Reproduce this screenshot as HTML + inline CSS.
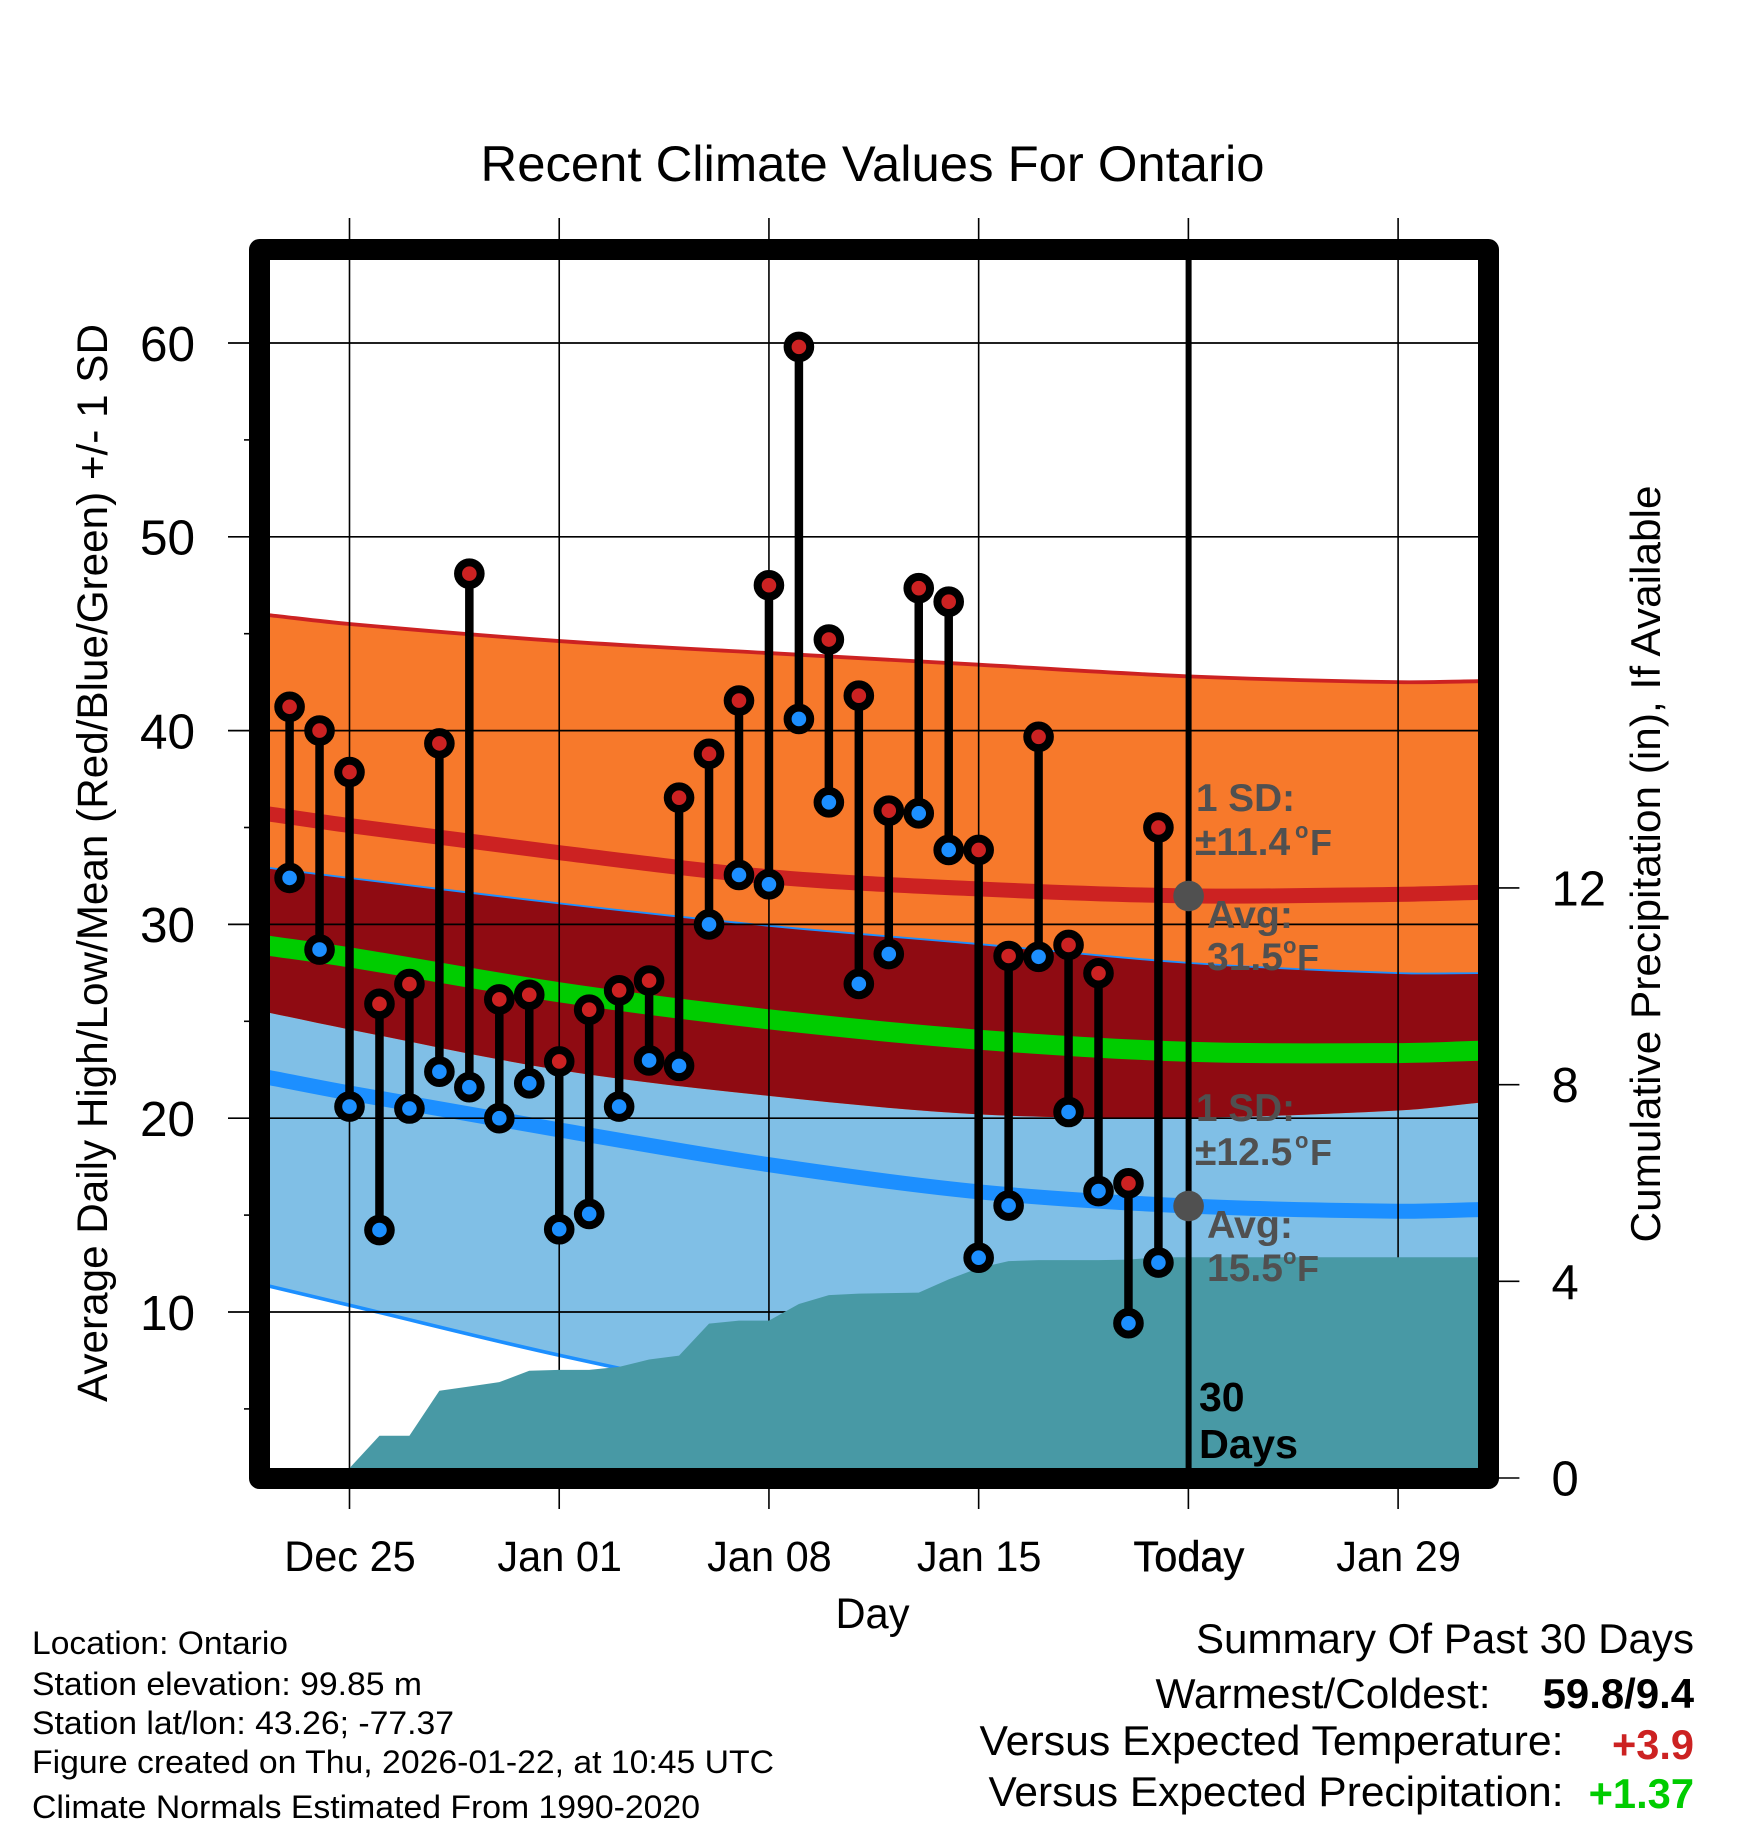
<!DOCTYPE html>
<html lang="en">
<head>
<meta charset="utf-8">
<title>Recent Climate Values For Ontario</title>
<style>
html,body{margin:0;padding:0;background:#fff;}
svg{display:block;}
text{font-family:"Liberation Sans",Arial,sans-serif;fill:#000;}
.b{font-weight:bold;}
.g{font-weight:bold;fill:#505050;font-size:39px;}
</style>
</head>
<body>
<svg id="chart" xmlns="http://www.w3.org/2000/svg" width="1748" height="1828" viewBox="0 0 1748 1828">
  <rect width="1748" height="1828" fill="#fff"/>
  <text x="480.5" y="181" font-size="50" textLength="784" lengthAdjust="spacingAndGlyphs">Recent Climate Values For Ontario</text>
  <g id="bands"></g>
  <g id="grid"></g>
  <g id="precip"></g>
  <rect x="259.5" y="249.5" width="1229" height="1229" fill="none" stroke="#000" stroke-width="21" stroke-linejoin="round"/>
  <g id="ticks"></g>
  <line x1="1188.6" x2="1188.6" y1="255" y2="1470" stroke="#000" stroke-width="6"/>
  <circle cx="1188.6" cy="896" r="15.3" fill="#505050"/>
  <circle cx="1188.6" cy="1206" r="15.3" fill="#505050"/>

  <g>
    <text class="g" x="1196" y="811" textLength="99" lengthAdjust="spacingAndGlyphs">1 SD:</text>
    <text class="g" y="855"><tspan x="1195">±11.4</tspan><tspan x="1295" dy="-17" font-size="22">o</tspan><tspan x="1310" dy="17" font-size="36">F</tspan></text>
    <text class="g" x="1207" y="928" textLength="86" lengthAdjust="spacingAndGlyphs">Avg:</text>
    <text class="g" y="970"><tspan x="1207">31.5</tspan><tspan x="1283" dy="-17" font-size="22">o</tspan><tspan x="1297" dy="17" font-size="36">F</tspan></text>
  </g>
  <g>
    <text class="g" x="1196" y="1121" textLength="99" lengthAdjust="spacingAndGlyphs">1 SD:</text>
    <text class="g" y="1165"><tspan x="1195">±12.5</tspan><tspan x="1295" dy="-17" font-size="22">o</tspan><tspan x="1310" dy="17" font-size="36">F</tspan></text>
    <text class="g" x="1207" y="1238" textLength="86" lengthAdjust="spacingAndGlyphs">Avg:</text>
    <text class="g" y="1281"><tspan x="1207">15.5</tspan><tspan x="1283" dy="-17" font-size="22">o</tspan><tspan x="1297" dy="17" font-size="36">F</tspan></text>
  </g>
  <text class="b" x="1199" y="1411" font-size="41">30</text>
  <text class="b" x="1199" y="1458" font-size="41" textLength="99" lengthAdjust="spacingAndGlyphs">Days</text>

  <g id="obs"></g>

  <text transform="translate(107,1402) rotate(-90)" font-size="43" textLength="1078" lengthAdjust="spacingAndGlyphs">Average Daily High/Low/Mean (Red/Blue/Green) +/- 1 SD</text>
  <text transform="translate(1660,1242.5) rotate(-90)" font-size="42" textLength="757" lengthAdjust="spacingAndGlyphs">Cumulative Precipitation (in), If Available</text>
  <text x="835.5" y="1628" font-size="43" textLength="74" lengthAdjust="spacingAndGlyphs">Day</text>

  <g font-size="32.5">
    <text x="32" y="1654" textLength="256" lengthAdjust="spacingAndGlyphs">Location: Ontario</text>
    <text x="32" y="1695" textLength="390" lengthAdjust="spacingAndGlyphs">Station elevation: 99.85 m</text>
    <text x="32" y="1734" textLength="422" lengthAdjust="spacingAndGlyphs">Station lat/lon: 43.26; -77.37</text>
    <text x="32" y="1773" textLength="742" lengthAdjust="spacingAndGlyphs">Figure created on Thu, 2026-01-22, at 10:45 UTC</text>
    <text x="32" y="1818" textLength="668" lengthAdjust="spacingAndGlyphs">Climate Normals Estimated From 1990-2020</text>
  </g>
  <g font-size="41.5">
    <text x="1196" y="1653" textLength="498" lengthAdjust="spacingAndGlyphs">Summary Of Past 30 Days</text>
    <text x="1155.5" y="1708" textLength="335" lengthAdjust="spacingAndGlyphs">Warmest/Coldest:</text>
    <text class="b" x="1542.6" y="1708" textLength="151.5" lengthAdjust="spacingAndGlyphs">59.8/9.4</text>
    <text x="979.5" y="1755" textLength="584" lengthAdjust="spacingAndGlyphs">Versus Expected Temperature:</text>
    <text class="b" x="1612" y="1759" textLength="82" lengthAdjust="spacingAndGlyphs" style="fill:#cc2222">+3.9</text>
    <text x="988.5" y="1806" textLength="575" lengthAdjust="spacingAndGlyphs">Versus Expected Precipitation:</text>
    <text class="b" x="1588.6" y="1808" textLength="105.4" lengthAdjust="spacingAndGlyphs" style="fill:#00cc00">+1.37</text>
  </g>
</svg>
<script>
/* Values. Days are counted from Dec 25. */
var normalDays = [-2.7, 0, 7, 14, 21, 28, 35, 37.7];
var highUpper  = [45.96, 45.5, 44.62, 44.0, 43.4, 42.8, 42.5, 42.55];
var highMean   = [35.7, 35.1, 33.7, 32.46, 31.83, 31.47, 31.55, 31.65];
var highLower  = [25.45, 24.58, 22.49, 21.15, 20.2, 20.03, 20.4, 20.8];
var lowUpper   = [32.87, 32.35, 31.04, 29.88, 28.94, 27.97, 27.44, 27.44];
var dailyMean  = [28.9, 28.3, 26.5, 25.1, 24.05, 23.43, 23.36, 23.48];
var lowMean    = [22.1, 21.3, 19.4, 17.6, 16.2, 15.47, 15.2, 15.28];
var lowLower   = [11.34, 10.35, 7.77, 5.6, 4.2, 3.0, 2.7, 2.9];

var obsDays = [-2,-1,0,1,2,3,4,5,6,7,8,9,10,11,12,13,14,15,16,17,18,19,20,21,22,23,24,25,26,27];
var obsHigh = [41.23,40.0,37.86,25.9,26.92,39.34,48.1,26.13,26.37,22.93,25.6,26.6,27.1,36.54,38.8,41.55,47.5,59.8,44.7,41.8,35.87,47.35,46.65,33.84,28.37,39.68,28.94,27.48,16.64,35.0];
var obsLow  = [32.4,28.7,20.6,14.23,20.5,22.4,21.6,20.0,21.8,14.27,15.06,20.6,22.98,22.7,30.0,32.55,32.07,40.6,36.3,26.93,28.47,35.73,33.84,12.8,15.49,28.33,20.32,16.24,9.42,12.55];

var precipDays = [0,1,2,3,4,5,6,7,8,9,10,11,12,13,14,15,16,17,18,19,20,21,22,23,24,25,26,27,37.7];
var precipVals = [0.2,0.86,0.86,1.775,1.86,1.95,2.18,2.2,2.2,2.26,2.41,2.49,3.14,3.2,3.2,3.54,3.72,3.75,3.76,3.77,4.04,4.27,4.41,4.43,4.43,4.43,4.44,4.49,4.49];

var xTickDays   = [0,7,14,21,28,35];
var xTickLabels = ['Dec 25','Jan 01','Jan 08','Jan 15','Today','Jan 29'];
var yTickVals   = [10,20,30,40,50,60];
var yMinorVals  = [5,15,25,35,45,55];
var y2TickVals  = [0,4,8,12];

function xAxis(d){ return 349.5 + d * 29.96; }
function yAxis(v){ return 1312 - (v - 10) * 19.38; }
function y2Axis(p){ return 1478 - p * 49.17; }

var NS = 'http://www.w3.org/2000/svg';
function mk(tag, parent, attrs){
  var el = document.createElementNS(NS, tag);
  for (var k in attrs) el.setAttribute(k, attrs[k]);
  parent.appendChild(el);
  return el;
}
function segs(xs, ys){
  /* cubic Hermite through the points; returns segment string without the initial move */
  var n = xs.length, t = [], s = '';
  for (var i = 0; i < n; i++){
    var a = Math.max(i - 1, 0), b = Math.min(i + 1, n - 1);
    t.push((ys[b] - ys[a]) / (xs[b] - xs[a]));
  }
  for (var j = 0; j < n - 1; j++){
    var dx = (xs[j + 1] - xs[j]) / 3;
    s += ' C' + (xs[j] + dx) + ' ' + (ys[j] + t[j] * dx) + ' ' + (xs[j + 1] - dx) + ' ' + (ys[j + 1] - t[j + 1] * dx) + ' ' + xs[j + 1] + ' ' + ys[j + 1];
  }
  return s;
}
function curve(vals){
  var xs = normalDays.map(xAxis), ys = vals.map(yAxis);
  return 'M' + xs[0] + ' ' + ys[0] + segs(xs, ys);
}
function band(up, lo){
  var xs = normalDays.map(xAxis), yu = up.map(yAxis), yl = lo.map(yAxis);
  var rx = xs.slice().reverse(), ry = yl.slice().reverse();
  return 'M' + xs[0] + ' ' + yu[0] + segs(xs, yu) + ' L' + rx[0] + ' ' + ry[0] + segs(rx, ry) + ' Z';
}

var bands = document.getElementById('bands');
var lowBand = mk('path', bands, {d: band(lowUpper, lowLower), fill: '#80bfe6'});


var lowLowerLine = mk('path', bands, {d: curve(lowLower), fill: 'none', stroke: '#1c8fff', 'stroke-width': 3.6});


var highBand = mk('path', bands, {d: band(highUpper, highLower), fill: '#f7792b'});


var highUpperLine = mk('path', bands, {d: curve(highUpper), fill: 'none', stroke: '#cc2222', 'stroke-width': 3.8});


var lowUpperLine = mk('path', bands, {d: curve(lowUpper), fill: 'none', stroke: '#1c8fff', 'stroke-width': 3.6});


var overlap = mk('path', bands, {d: band(lowUpper, highLower), fill: '#8f0b12'});


var highMeanLine = mk('path', bands, {d: curve(highMean), fill: 'none', stroke: '#cc2222', 'stroke-width': 15});


var dailyMeanLine = mk('path', bands, {d: curve(dailyMean), fill: 'none', stroke: '#00cc00', 'stroke-width': 20});


var lowMeanLine = mk('path', bands, {d: curve(lowMean), fill: 'none', stroke: '#1c8fff', 'stroke-width': 15});



var grid = document.getElementById('grid');
xTickDays.forEach(function(d){
  var v = mk('line', grid, {x1: xAxis(d), x2: xAxis(d), y1: 218, y2: 1509, stroke: '#000', 'stroke-width': 1.6});
  
  
});
yTickVals.forEach(function(t){
  var h = mk('line', grid, {x1: 228, x2: 1478, y1: yAxis(t), y2: yAxis(t), stroke: '#000', 'stroke-width': 1.7});
  
  
});

var pg = document.getElementById('precip');
var px = precipDays.map(xAxis), py = precipVals.map(y2Axis);
var pd = 'M' + px[0] + ' 1478';
for (var i = 0; i < px.length; i++) pd += ' L' + px[i] + ' ' + py[i];
pd += ' L' + px[px.length - 1] + ' 1478 Z';
var area = mk('path', pg, {d: pd, fill: '#4899a5'});



var ticks = document.getElementById('ticks');
xTickDays.forEach(function(d, i){
  var tx = mk('text', ticks, {x: xAxis(d) + 0.5, y: 1571, 'font-size': 43, 'text-anchor': 'middle'});
  tx.textContent = xTickLabels[i];
  var natural = tx.getComputedTextLength();
  tx.setAttribute('textLength', (natural * 0.965).toFixed(1));
  tx.setAttribute('lengthAdjust', 'spacingAndGlyphs');
  if (xTickLabels[i] === 'Today') { tx.setAttribute('stroke', '#000'); tx.setAttribute('stroke-width', '0.5'); }
  
  
});
yTickVals.forEach(function(t){
  var tx = mk('text', ticks, {x: 195, y: yAxis(t) + 17.8, 'font-size': 49.5, 'text-anchor': 'end'});
  tx.textContent = String(t);
  
  
});
yMinorVals.forEach(function(t){
  var m = mk('line', ticks, {x1: 244, x2: 250, y1: yAxis(t), y2: yAxis(t), stroke: '#000', 'stroke-width': 1.6});
  
  
});
y2TickVals.forEach(function(t){
  var m = mk('line', ticks, {x1: 1498, x2: 1519.4, y1: y2Axis(t), y2: y2Axis(t), stroke: '#000', 'stroke-width': 1.6});
  
  
  var tx = mk('text', ticks, {x: 1551.5, y: y2Axis(t) + 17.5, 'font-size': 49});
  tx.textContent = String(t);
  
  
});

var obs = document.getElementById('obs');
obsDays.forEach(function(d, i){
  var s = mk('line', obs, {x1: xAxis(d), x2: xAxis(d), y1: yAxis(obsHigh[i]), y2: yAxis(obsLow[i]), stroke: '#000', 'stroke-width': 8.5});
  
  
});
obsDays.forEach(function(d, i){
  var h = mk('circle', obs, {cx: xAxis(d), cy: yAxis(obsHigh[i]), r: 11.3, fill: '#cc2222', stroke: '#000', 'stroke-width': 8});
  
  
  var l = mk('circle', obs, {cx: xAxis(d), cy: yAxis(obsLow[i]), r: 11.3, fill: '#1c8fff', stroke: '#000', 'stroke-width': 8});
  
  
});
</script>
</body>
</html>
